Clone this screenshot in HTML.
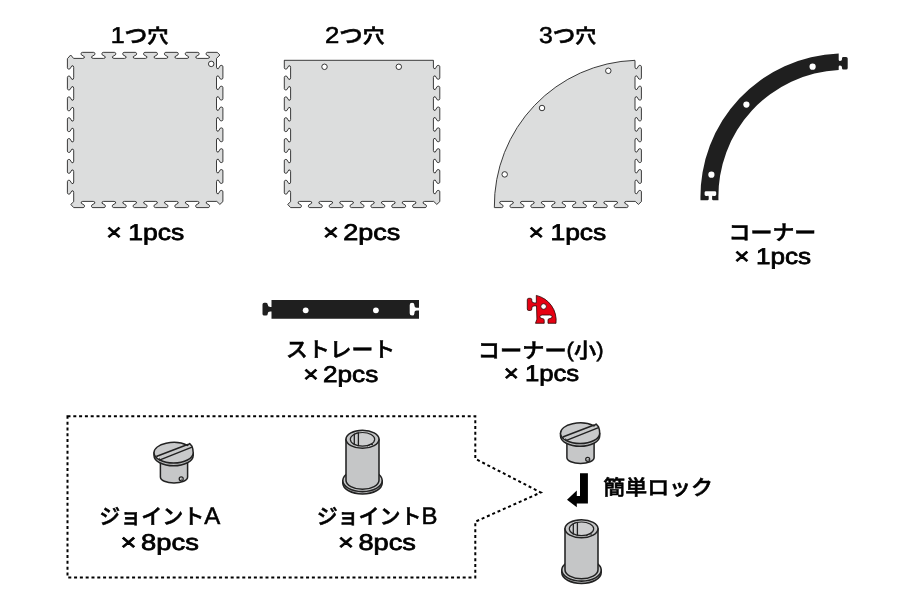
<!DOCTYPE html>
<html lang="ja"><head><meta charset="utf-8"><title>パーツ一覧</title>
<style>
html,body{margin:0;padding:0;background:#fff}
svg{display:block;will-change:transform;opacity:.999}
text{font-family:"Liberation Sans","Noto Sans CJK JP",sans-serif;text-rendering:geometricPrecision}
</style></head><body>
<svg width="920" height="600" viewBox="0 0 920 600">
<rect width="920" height="600" fill="#fff"/>
<g fill="#dcdddd" stroke="#222222" stroke-width="0.88" stroke-linejoin="round">
<path d="M70.7 55L73.6 58.4L82.85 58.4Q84.65 58.4 84.45 56.71L81.3 54.77C80.85 53.86 81 52.35 82.4 52.35L93.6 52.35C95 52.35 95.15 53.86 94.7 54.77L91.55 56.71Q91.35 58.4 93.15 58.4L103.69 58.4Q105.49 58.4 105.29 56.71L102.14 54.77C101.69 53.86 101.84 52.35 103.24 52.35L114.44 52.35C115.84 52.35 115.99 53.86 115.54 54.77L112.39 56.71Q112.19 58.4 113.99 58.4L124.53 58.4Q126.33 58.4 126.13 56.71L122.98 54.77C122.53 53.86 122.68 52.35 124.08 52.35L135.28 52.35C136.68 52.35 136.83 53.86 136.38 54.77L133.23 56.71Q133.03 58.4 134.83 58.4L145.37 58.4Q147.17 58.4 146.97 56.71L143.82 54.77C143.37 53.86 143.52 52.35 144.92 52.35L156.12 52.35C157.52 52.35 157.67 53.86 157.22 54.77L154.07 56.71Q153.87 58.4 155.67 58.4L166.21 58.4Q168.01 58.4 167.81 56.71L164.66 54.77C164.21 53.86 164.36 52.35 165.76 52.35L176.96 52.35C178.36 52.35 178.51 53.86 178.06 54.77L174.91 56.71Q174.71 58.4 176.51 58.4L187.05 58.4Q188.85 58.4 188.65 56.71L185.5 54.77C185.05 53.86 185.2 52.35 186.6 52.35L197.8 52.35C199.2 52.35 199.35 53.86 198.9 54.77L195.75 56.71Q195.55 58.4 197.35 58.4L207.89 58.4Q209.69 58.4 209.49 56.71L206.34 54.77C205.89 53.86 206.04 52.35 207.44 52.35L217.2 52.35L219.9 55L216.5 58.4L216.5 67.15Q216.5 68.95 218.29 68.75L220.34 65.6C221.3 65.15 222.9 65.3 222.9 66.7L222.9 77.9C222.9 79.3 221.3 79.45 220.34 79L218.29 75.85Q216.5 75.65 216.5 77.45L216.5 87.99Q216.5 89.79 218.29 89.59L220.34 86.44C221.3 85.99 222.9 86.14 222.9 87.54L222.9 98.74C222.9 100.14 221.3 100.29 220.34 99.84L218.29 96.69Q216.5 96.49 216.5 98.29L216.5 108.83Q216.5 110.63 218.29 110.43L220.34 107.28C221.3 106.83 222.9 106.98 222.9 108.38L222.9 119.58C222.9 120.98 221.3 121.13 220.34 120.68L218.29 117.53Q216.5 117.33 216.5 119.13L216.5 129.67Q216.5 131.47 218.29 131.27L220.34 128.12C221.3 127.67 222.9 127.82 222.9 129.22L222.9 140.42C222.9 141.82 221.3 141.97 220.34 141.52L218.29 138.37Q216.5 138.17 216.5 139.97L216.5 150.51Q216.5 152.31 218.29 152.11L220.34 148.96C221.3 148.51 222.9 148.66 222.9 150.06L222.9 161.26C222.9 162.66 221.3 162.81 220.34 162.36L218.29 159.21Q216.5 159.01 216.5 160.81L216.5 171.35Q216.5 173.15 218.29 172.95L220.34 169.8C221.3 169.35 222.9 169.5 222.9 170.9L222.9 182.1C222.9 183.5 221.3 183.65 220.34 183.2L218.29 180.05Q216.5 179.85 216.5 181.65L216.5 192.19Q216.5 193.99 218.29 193.79L220.34 190.64C221.3 190.19 222.9 190.34 222.9 191.74L222.9 201.6L219.9 204.4L216.8 201.4L207.77 201.4Q205.97 201.4 206.17 203.14L209.32 205.12C209.77 206.05 209.62 207.6 208.22 207.6L197.02 207.6C195.62 207.6 195.47 206.05 195.92 205.12L199.07 203.14Q199.27 201.4 197.47 201.4L186.93 201.4Q185.13 201.4 185.33 203.14L188.48 205.12C188.93 206.05 188.78 207.6 187.38 207.6L176.18 207.6C174.78 207.6 174.63 206.05 175.08 205.12L178.23 203.14Q178.43 201.4 176.63 201.4L166.09 201.4Q164.29 201.4 164.49 203.14L167.64 205.12C168.09 206.05 167.94 207.6 166.54 207.6L155.34 207.6C153.94 207.6 153.79 206.05 154.24 205.12L157.39 203.14Q157.59 201.4 155.79 201.4L145.25 201.4Q143.45 201.4 143.65 203.14L146.8 205.12C147.25 206.05 147.1 207.6 145.7 207.6L134.5 207.6C133.1 207.6 132.95 206.05 133.4 205.12L136.55 203.14Q136.75 201.4 134.95 201.4L124.41 201.4Q122.61 201.4 122.81 203.14L125.96 205.12C126.41 206.05 126.26 207.6 124.86 207.6L113.66 207.6C112.26 207.6 112.11 206.05 112.56 205.12L115.71 203.14Q115.91 201.4 114.11 201.4L103.57 201.4Q101.77 201.4 101.97 203.14L105.12 205.12C105.57 206.05 105.42 207.6 104.02 207.6L92.82 207.6C91.42 207.6 91.27 206.05 91.72 205.12L94.87 203.14Q95.07 201.4 93.27 201.4L82.73 201.4Q80.93 201.4 81.13 203.14L84.28 205.12C84.73 206.05 84.58 207.6 83.18 207.6L73.7 207.6L70.8 204.4L73.7 201.7L73.7 192.35Q73.7 190.55 71.94 190.75L69.92 193.9C68.98 194.35 67.4 194.2 67.4 192.8L67.4 181.6C67.4 180.2 68.98 180.05 69.92 180.5L71.94 183.65Q73.7 183.85 73.7 182.05L73.7 171.51Q73.7 169.71 71.94 169.91L69.92 173.06C68.98 173.51 67.4 173.36 67.4 171.96L67.4 160.76C67.4 159.36 68.98 159.21 69.92 159.66L71.94 162.81Q73.7 163.01 73.7 161.21L73.7 150.67Q73.7 148.87 71.94 149.07L69.92 152.22C68.98 152.67 67.4 152.52 67.4 151.12L67.4 139.92C67.4 138.52 68.98 138.37 69.92 138.82L71.94 141.97Q73.7 142.17 73.7 140.37L73.7 129.83Q73.7 128.03 71.94 128.23L69.92 131.38C68.98 131.83 67.4 131.68 67.4 130.28L67.4 119.08C67.4 117.68 68.98 117.53 69.92 117.98L71.94 121.13Q73.7 121.33 73.7 119.53L73.7 108.99Q73.7 107.19 71.94 107.39L69.92 110.54C68.98 110.99 67.4 110.84 67.4 109.44L67.4 98.24C67.4 96.84 68.98 96.69 69.92 97.14L71.94 100.29Q73.7 100.49 73.7 98.69L73.7 88.15Q73.7 86.35 71.94 86.55L69.92 89.7C68.98 90.15 67.4 90 67.4 88.6L67.4 77.4C67.4 76 68.98 75.85 69.92 76.3L71.94 79.45Q73.7 79.65 73.7 77.85L73.7 67.31Q73.7 65.51 71.94 65.71L69.92 68.86C68.98 69.31 67.4 69.16 67.4 67.76L67.4 58.7Z"/>
<circle cx="211.2" cy="63.9" r="2.75" fill="#fff" stroke-width="0.9"/>
<clipPath id="c2"><rect x="270" y="60.3" width="200" height="160"/></clipPath>
<path d="M287.6 55L290.5 58.4L299.75 58.4Q301.55 58.4 301.35 56.71L298.2 54.77C297.75 53.86 297.9 52.35 299.3 52.35L310.5 52.35C311.9 52.35 312.05 53.86 311.6 54.77L308.45 56.71Q308.25 58.4 310.05 58.4L320.59 58.4Q322.39 58.4 322.19 56.71L319.04 54.77C318.59 53.86 318.74 52.35 320.14 52.35L331.34 52.35C332.74 52.35 332.89 53.86 332.44 54.77L329.29 56.71Q329.09 58.4 330.89 58.4L341.43 58.4Q343.23 58.4 343.03 56.71L339.88 54.77C339.43 53.86 339.58 52.35 340.98 52.35L352.18 52.35C353.58 52.35 353.73 53.86 353.28 54.77L350.13 56.71Q349.93 58.4 351.73 58.4L362.27 58.4Q364.07 58.4 363.87 56.71L360.72 54.77C360.27 53.86 360.42 52.35 361.82 52.35L373.02 52.35C374.42 52.35 374.57 53.86 374.12 54.77L370.97 56.71Q370.77 58.4 372.57 58.4L383.11 58.4Q384.91 58.4 384.71 56.71L381.56 54.77C381.11 53.86 381.26 52.35 382.66 52.35L393.86 52.35C395.26 52.35 395.41 53.86 394.96 54.77L391.81 56.71Q391.61 58.4 393.41 58.4L403.95 58.4Q405.75 58.4 405.55 56.71L402.4 54.77C401.95 53.86 402.1 52.35 403.5 52.35L414.7 52.35C416.1 52.35 416.25 53.86 415.8 54.77L412.65 56.71Q412.45 58.4 414.25 58.4L424.79 58.4Q426.59 58.4 426.39 56.71L423.24 54.77C422.79 53.86 422.94 52.35 424.34 52.35L434.1 52.35L436.8 55L433.4 58.4L433.4 67.15Q433.4 68.95 435.19 68.75L437.24 65.6C438.2 65.15 439.8 65.3 439.8 66.7L439.8 77.9C439.8 79.3 438.2 79.45 437.24 79L435.19 75.85Q433.4 75.65 433.4 77.45L433.4 87.99Q433.4 89.79 435.19 89.59L437.24 86.44C438.2 85.99 439.8 86.14 439.8 87.54L439.8 98.74C439.8 100.14 438.2 100.29 437.24 99.84L435.19 96.69Q433.4 96.49 433.4 98.29L433.4 108.83Q433.4 110.63 435.19 110.43L437.24 107.28C438.2 106.83 439.8 106.98 439.8 108.38L439.8 119.58C439.8 120.98 438.2 121.13 437.24 120.68L435.19 117.53Q433.4 117.33 433.4 119.13L433.4 129.67Q433.4 131.47 435.19 131.27L437.24 128.12C438.2 127.67 439.8 127.82 439.8 129.22L439.8 140.42C439.8 141.82 438.2 141.97 437.24 141.52L435.19 138.37Q433.4 138.17 433.4 139.97L433.4 150.51Q433.4 152.31 435.19 152.11L437.24 148.96C438.2 148.51 439.8 148.66 439.8 150.06L439.8 161.26C439.8 162.66 438.2 162.81 437.24 162.36L435.19 159.21Q433.4 159.01 433.4 160.81L433.4 171.35Q433.4 173.15 435.19 172.95L437.24 169.8C438.2 169.35 439.8 169.5 439.8 170.9L439.8 182.1C439.8 183.5 438.2 183.65 437.24 183.2L435.19 180.05Q433.4 179.85 433.4 181.65L433.4 192.19Q433.4 193.99 435.19 193.79L437.24 190.64C438.2 190.19 439.8 190.34 439.8 191.74L439.8 201.6L436.8 204.4L433.7 201.4L424.67 201.4Q422.87 201.4 423.07 203.14L426.22 205.12C426.67 206.05 426.52 207.6 425.12 207.6L413.92 207.6C412.52 207.6 412.37 206.05 412.82 205.12L415.97 203.14Q416.17 201.4 414.37 201.4L403.83 201.4Q402.03 201.4 402.23 203.14L405.38 205.12C405.83 206.05 405.68 207.6 404.28 207.6L393.08 207.6C391.68 207.6 391.53 206.05 391.98 205.12L395.13 203.14Q395.33 201.4 393.53 201.4L382.99 201.4Q381.19 201.4 381.39 203.14L384.54 205.12C384.99 206.05 384.84 207.6 383.44 207.6L372.24 207.6C370.84 207.6 370.69 206.05 371.14 205.12L374.29 203.14Q374.49 201.4 372.69 201.4L362.15 201.4Q360.35 201.4 360.55 203.14L363.7 205.12C364.15 206.05 364 207.6 362.6 207.6L351.4 207.6C350 207.6 349.85 206.05 350.3 205.12L353.45 203.14Q353.65 201.4 351.85 201.4L341.31 201.4Q339.51 201.4 339.71 203.14L342.86 205.12C343.31 206.05 343.16 207.6 341.76 207.6L330.56 207.6C329.16 207.6 329.01 206.05 329.46 205.12L332.61 203.14Q332.81 201.4 331.01 201.4L320.47 201.4Q318.67 201.4 318.87 203.14L322.02 205.12C322.47 206.05 322.32 207.6 320.92 207.6L309.72 207.6C308.32 207.6 308.17 206.05 308.62 205.12L311.77 203.14Q311.97 201.4 310.17 201.4L299.63 201.4Q297.83 201.4 298.03 203.14L301.18 205.12C301.63 206.05 301.48 207.6 300.08 207.6L290.6 207.6L287.7 204.4L290.6 201.7L290.6 192.35Q290.6 190.55 288.84 190.75L286.82 193.9C285.88 194.35 284.3 194.2 284.3 192.8L284.3 181.6C284.3 180.2 285.88 180.05 286.82 180.5L288.84 183.65Q290.6 183.85 290.6 182.05L290.6 171.51Q290.6 169.71 288.84 169.91L286.82 173.06C285.88 173.51 284.3 173.36 284.3 171.96L284.3 160.76C284.3 159.36 285.88 159.21 286.82 159.66L288.84 162.81Q290.6 163.01 290.6 161.21L290.6 150.67Q290.6 148.87 288.84 149.07L286.82 152.22C285.88 152.67 284.3 152.52 284.3 151.12L284.3 139.92C284.3 138.52 285.88 138.37 286.82 138.82L288.84 141.97Q290.6 142.17 290.6 140.37L290.6 129.83Q290.6 128.03 288.84 128.23L286.82 131.38C285.88 131.83 284.3 131.68 284.3 130.28L284.3 119.08C284.3 117.68 285.88 117.53 286.82 117.98L288.84 121.13Q290.6 121.33 290.6 119.53L290.6 108.99Q290.6 107.19 288.84 107.39L286.82 110.54C285.88 110.99 284.3 110.84 284.3 109.44L284.3 98.24C284.3 96.84 285.88 96.69 286.82 97.14L288.84 100.29Q290.6 100.49 290.6 98.69L290.6 88.15Q290.6 86.35 288.84 86.55L286.82 89.7C285.88 90.15 284.3 90 284.3 88.6L284.3 77.4C284.3 76 285.88 75.85 286.82 76.3L288.84 79.45Q290.6 79.65 290.6 77.85L290.6 67.31Q290.6 65.51 288.84 65.71L286.82 68.86C285.88 69.31 284.3 69.16 284.3 67.76L284.3 58.7Z" clip-path="url(#c2)"/>
<path d="M284.2 60.3H433.4" fill="none"/>
<circle cx="324.5" cy="66.8" r="2.75" fill="#fff" stroke-width="0.9"/><circle cx="398.8" cy="66.8" r="2.75" fill="#fff" stroke-width="0.9"/>
<clipPath id="c3"><circle cx="639.97" cy="205.89" r="145.65"/></clipPath>
<path d="M489.2 55L492.1 58.4L501.35 58.4Q503.15 58.4 502.95 56.71L499.8 54.77C499.35 53.86 499.5 52.35 500.9 52.35L512.1 52.35C513.5 52.35 513.65 53.86 513.2 54.77L510.05 56.71Q509.85 58.4 511.65 58.4L522.19 58.4Q523.99 58.4 523.79 56.71L520.64 54.77C520.19 53.86 520.34 52.35 521.74 52.35L532.94 52.35C534.34 52.35 534.49 53.86 534.04 54.77L530.89 56.71Q530.69 58.4 532.49 58.4L543.03 58.4Q544.83 58.4 544.63 56.71L541.48 54.77C541.03 53.86 541.18 52.35 542.58 52.35L553.78 52.35C555.18 52.35 555.33 53.86 554.88 54.77L551.73 56.71Q551.53 58.4 553.33 58.4L563.87 58.4Q565.67 58.4 565.47 56.71L562.32 54.77C561.87 53.86 562.02 52.35 563.42 52.35L574.62 52.35C576.02 52.35 576.17 53.86 575.72 54.77L572.57 56.71Q572.37 58.4 574.17 58.4L584.71 58.4Q586.51 58.4 586.31 56.71L583.16 54.77C582.71 53.86 582.86 52.35 584.26 52.35L595.46 52.35C596.86 52.35 597.01 53.86 596.56 54.77L593.41 56.71Q593.21 58.4 595.01 58.4L605.55 58.4Q607.35 58.4 607.15 56.71L604 54.77C603.55 53.86 603.7 52.35 605.1 52.35L616.3 52.35C617.7 52.35 617.85 53.86 617.4 54.77L614.25 56.71Q614.05 58.4 615.85 58.4L626.39 58.4Q628.19 58.4 627.99 56.71L624.84 54.77C624.39 53.86 624.54 52.35 625.94 52.35L635.7 52.35L638.4 55L635 58.4L635 67.15Q635 68.95 636.79 68.75L638.84 65.6C639.8 65.15 641.4 65.3 641.4 66.7L641.4 77.9C641.4 79.3 639.8 79.45 638.84 79L636.79 75.85Q635 75.65 635 77.45L635 87.99Q635 89.79 636.79 89.59L638.84 86.44C639.8 85.99 641.4 86.14 641.4 87.54L641.4 98.74C641.4 100.14 639.8 100.29 638.84 99.84L636.79 96.69Q635 96.49 635 98.29L635 108.83Q635 110.63 636.79 110.43L638.84 107.28C639.8 106.83 641.4 106.98 641.4 108.38L641.4 119.58C641.4 120.98 639.8 121.13 638.84 120.68L636.79 117.53Q635 117.33 635 119.13L635 129.67Q635 131.47 636.79 131.27L638.84 128.12C639.8 127.67 641.4 127.82 641.4 129.22L641.4 140.42C641.4 141.82 639.8 141.97 638.84 141.52L636.79 138.37Q635 138.17 635 139.97L635 150.51Q635 152.31 636.79 152.11L638.84 148.96C639.8 148.51 641.4 148.66 641.4 150.06L641.4 161.26C641.4 162.66 639.8 162.81 638.84 162.36L636.79 159.21Q635 159.01 635 160.81L635 171.35Q635 173.15 636.79 172.95L638.84 169.8C639.8 169.35 641.4 169.5 641.4 170.9L641.4 182.1C641.4 183.5 639.8 183.65 638.84 183.2L636.79 180.05Q635 179.85 635 181.65L635 192.19Q635 193.99 636.79 193.79L638.84 190.64C639.8 190.19 641.4 190.34 641.4 191.74L641.4 201.6L638.4 204.4L635.3 201.4L626.27 201.4Q624.47 201.4 624.67 203.14L627.82 205.12C628.27 206.05 628.12 207.6 626.72 207.6L615.52 207.6C614.12 207.6 613.97 206.05 614.42 205.12L617.57 203.14Q617.77 201.4 615.97 201.4L605.43 201.4Q603.63 201.4 603.83 203.14L606.98 205.12C607.43 206.05 607.28 207.6 605.88 207.6L594.68 207.6C593.28 207.6 593.13 206.05 593.58 205.12L596.73 203.14Q596.93 201.4 595.13 201.4L584.59 201.4Q582.79 201.4 582.99 203.14L586.14 205.12C586.59 206.05 586.44 207.6 585.04 207.6L573.84 207.6C572.44 207.6 572.29 206.05 572.74 205.12L575.89 203.14Q576.09 201.4 574.29 201.4L563.75 201.4Q561.95 201.4 562.15 203.14L565.3 205.12C565.75 206.05 565.6 207.6 564.2 207.6L553 207.6C551.6 207.6 551.45 206.05 551.9 205.12L555.05 203.14Q555.25 201.4 553.45 201.4L542.91 201.4Q541.11 201.4 541.31 203.14L544.46 205.12C544.91 206.05 544.76 207.6 543.36 207.6L532.16 207.6C530.76 207.6 530.61 206.05 531.06 205.12L534.21 203.14Q534.41 201.4 532.61 201.4L522.07 201.4Q520.27 201.4 520.47 203.14L523.62 205.12C524.07 206.05 523.92 207.6 522.52 207.6L511.32 207.6C509.92 207.6 509.77 206.05 510.22 205.12L513.37 203.14Q513.57 201.4 511.77 201.4L501.23 201.4Q499.43 201.4 499.63 203.14L502.78 205.12C503.23 206.05 503.08 207.6 501.68 207.6L492.2 207.6L489.3 204.4L492.2 201.7L492.2 192.35Q492.2 190.55 490.44 190.75L488.42 193.9C487.48 194.35 485.9 194.2 485.9 192.8L485.9 181.6C485.9 180.2 487.48 180.05 488.42 180.5L490.44 183.65Q492.2 183.85 492.2 182.05L492.2 171.51Q492.2 169.71 490.44 169.91L488.42 173.06C487.48 173.51 485.9 173.36 485.9 171.96L485.9 160.76C485.9 159.36 487.48 159.21 488.42 159.66L490.44 162.81Q492.2 163.01 492.2 161.21L492.2 150.67Q492.2 148.87 490.44 149.07L488.42 152.22C487.48 152.67 485.9 152.52 485.9 151.12L485.9 139.92C485.9 138.52 487.48 138.37 488.42 138.82L490.44 141.97Q492.2 142.17 492.2 140.37L492.2 129.83Q492.2 128.03 490.44 128.23L488.42 131.38C487.48 131.83 485.9 131.68 485.9 130.28L485.9 119.08C485.9 117.68 487.48 117.53 488.42 117.98L490.44 121.13Q492.2 121.33 492.2 119.53L492.2 108.99Q492.2 107.19 490.44 107.39L488.42 110.54C487.48 110.99 485.9 110.84 485.9 109.44L485.9 98.24C485.9 96.84 487.48 96.69 488.42 97.14L490.44 100.29Q492.2 100.49 492.2 98.69L492.2 88.15Q492.2 86.35 490.44 86.55L488.42 89.7C487.48 90.15 485.9 90 485.9 88.6L485.9 77.4C485.9 76 487.48 75.85 488.42 76.3L490.44 79.45Q492.2 79.65 492.2 77.85L492.2 67.31Q492.2 65.51 490.44 65.71L488.42 68.86C487.48 69.31 485.9 69.16 485.9 67.76L485.9 58.7Z" clip-path="url(#c3)"/>
<path d="M494.33 207.6A145.65 145.65 0 0 1 635 60.32" fill="none"/>
<circle cx="542" cy="108" r="2.75" fill="#fff" stroke-width="0.9"/><circle cx="608.3" cy="70.8" r="2.75" fill="#fff" stroke-width="0.9"/><circle cx="504.7" cy="174.4" r="2.75" fill="#fff" stroke-width="0.9"/>
</g>
<path d="M700.5 200.3A143.25 143.25 0 0 1 838.7 53.54V59.8Q838.7 61 840 61Q842 61 842 59.2V58.4Q842 57 843.4 57H846.1Q847.7 57 847.7 58.6V68Q847.7 69.6 846.1 69.6H843.4Q842 69.6 842 68.2V67.4Q842 65.6 840 65.6Q838.7 65.6 838.7 66.8V69.96A126.6 126.6 0 0 0 718.46 200.3H713.3Q712.1 200.3 712.1 199.1V196.6Q712.1 195.4 713.7 196H714.8Q716.2 196 716.2 194.6V192.6Q716.2 191.2 714.8 191.2H706Q704.6 191.2 704.6 192.6V194.6Q704.6 196 706 196H707.1Q708.7 195.4 708.7 196.6V199.1Q708.7 200.3 707.5 200.3Z" fill="#1f1f1f"/>
<g fill="#fff"><circle cx="812.6" cy="66.7" r="3.1"/><circle cx="746.4" cy="104.6" r="3.1"/><circle cx="711.4" cy="174.7" r="3.1"/></g>
<path d="M271.5 300H419V307.8H416.6Q414.4 307.8 414.4 305.6V305Q414.4 302.8 412.05 302.8Q409.7 302.8 409.7 305.1V313.3Q409.7 315.6 412.05 315.6Q414.4 315.6 414.4 313.4V312.8Q414.4 310.6 416.6 310.6H419V318.8H271.5V311.4H270.2Q267.7 311.4 267.7 313.8V314Q267.7 315.6 266 315.6H264.2Q262.5 315.6 262.5 313.9V304.5Q262.5 302.8 264.2 302.8H266Q267.7 302.8 267.7 304.4V304.6Q267.7 307 270.2 307H271.5Z" fill="#1f1f1f"/>
<g fill="#fff"><circle cx="305.7" cy="310.3" r="2.9"/><circle cx="375.9" cy="310.3" r="2.9"/></g>
<path d="M536.3 295.4A25.7 25.7 0 0 1 556 323.3H548V320.2Q548 318.5 549.8 318.5Q552.1 318.5 552.1 316.8Q552.1 315 549.8 315H542.2Q539.9 315 539.9 316.8Q539.9 318.5 542.2 318.5Q544.2 318.5 544.2 320.2V323.3H535.5L536.9 319.2L536.5 305.9H534.2Q531.8 305.9 531.8 308V309Q531.8 310.5 530.3 310.5H528.8Q527.3 310.5 527.3 309V299.8Q527.3 298.3 528.8 298.3H530.3Q531.8 298.3 531.8 299.8V300.8Q531.8 302.9 534.2 302.9H536.4Z" fill="#e60012" stroke="#2a0505" stroke-width="0.8" stroke-linejoin="round"/>
<circle cx="543.6" cy="306.5" r="2.8" fill="#fff" stroke="#2a0505" stroke-width="0.8"/>
<path d="M67.5 416.2H475.3V458.8L540.8 492.5L475.3 521.7V577.5H67.5Z" fill="none" stroke="#000" stroke-width="2" stroke-dasharray="3 2.8"/>
<g transform="translate(0 0)" stroke="#222" stroke-width="1.5" stroke-linejoin="round" stroke-linecap="round"><path d="M160.4 460V477A13.6 6 0 0 0 187.6 477V460Z" fill="#c6c7c8"/><path d="M154 452.7V455.5A19.6 10.3 0 0 0 193.2 455.5V452.7Z" fill="#b9babb"/><path d="M154 452.7A19.6 10.3 0 0 1 187.4 445.4L189.6 443.5L192 446.2Q193.2 449.2 193.2 452.7A19.6 10.3 0 0 1 154 452.7Z" fill="#c9cacb"/><path d="M156.9 456.3L187.6 444.5M160 459.9L191.4 447.3" fill="none" stroke-width="1.45"/><path d="M156.9 456.3Q159.4 456.9 160 459.9" fill="none" stroke-width="0.8"/><circle cx="158.4" cy="457.5" r="0.8" fill="#f2f2f2" stroke="none"/><circle cx="181.2" cy="478.8" r="2" fill="#cfcfcf" stroke-width="1.25"/><circle cx="181.8" cy="479.4" r="1" fill="#777" stroke="none"/></g>
<g transform="translate(0 0)" stroke="#222" stroke-width="1.55" stroke-linejoin="round" stroke-linecap="round"><path d="M342.8 480.6V483A19.7 11 0 0 0 382.2 483V480.6Z" fill="#b4b5b6"/><ellipse cx="362.5" cy="480.6" rx="19.7" ry="11" fill="#c9cacb"/><path d="M346 439.2V480.2A16.5 9 0 0 0 379 480.2V439.2Z" fill="#c5c6c7"/><ellipse cx="362.5" cy="439.2" rx="16.5" ry="9" fill="#c5c6c7"/><ellipse cx="362.5" cy="439.3" rx="12.2" ry="6.8" fill="#cdcecf" stroke-width="1.2"/><path d="M354.3 434.2V444.6M358.4 432.9V445.6" fill="none" stroke-width="1.3"/><path d="M354.3 434.2Q356 432.4 358.4 432.9" fill="none" stroke-width="0.9"/><path d="M367.5 446Q369.5 445.2 370.6 444.4L372.6 444.6" fill="none" stroke-width="1"/></g>
<g transform="translate(406.5 -19.5)" stroke="#222" stroke-width="1.5" stroke-linejoin="round" stroke-linecap="round"><path d="M160.4 460V477A13.6 6 0 0 0 187.6 477V460Z" fill="#c6c7c8"/><path d="M154 452.7V455.5A19.6 10.3 0 0 0 193.2 455.5V452.7Z" fill="#b9babb"/><path d="M154 452.7A19.6 10.3 0 0 1 187.4 445.4L189.6 443.5L192 446.2Q193.2 449.2 193.2 452.7A19.6 10.3 0 0 1 154 452.7Z" fill="#c9cacb"/><path d="M156.9 456.3L187.6 444.5M160 459.9L191.4 447.3" fill="none" stroke-width="1.45"/><path d="M156.9 456.3Q159.4 456.9 160 459.9" fill="none" stroke-width="0.8"/><circle cx="158.4" cy="457.5" r="0.8" fill="#f2f2f2" stroke="none"/><circle cx="181.2" cy="478.8" r="2" fill="#cfcfcf" stroke-width="1.25"/><circle cx="181.8" cy="479.4" r="1" fill="#777" stroke="none"/></g>
<g transform="translate(219 89.5)" stroke="#222" stroke-width="1.55" stroke-linejoin="round" stroke-linecap="round"><path d="M342.8 480.6V483A19.7 11 0 0 0 382.2 483V480.6Z" fill="#b4b5b6"/><ellipse cx="362.5" cy="480.6" rx="19.7" ry="11" fill="#c9cacb"/><path d="M346 439.2V480.2A16.5 9 0 0 0 379 480.2V439.2Z" fill="#c5c6c7"/><ellipse cx="362.5" cy="439.2" rx="16.5" ry="9" fill="#c5c6c7"/><ellipse cx="362.5" cy="439.3" rx="12.2" ry="6.8" fill="#cdcecf" stroke-width="1.2"/><path d="M354.3 434.2V444.6M358.4 432.9V445.6" fill="none" stroke-width="1.3"/><path d="M354.3 434.2Q356 432.4 358.4 432.9" fill="none" stroke-width="0.9"/><path d="M367.5 446Q369.5 445.2 370.6 444.4L372.6 444.6" fill="none" stroke-width="1"/></g>
<path d="M580 473.3H587.9V503.4H576.8V507.3L567 499.7L576.8 490.4V496H580Z" fill="#000"/>
<g fill="#000" stroke="#000" stroke-linejoin="miter">
<text x="110.69" y="43" font-size="21" font-weight="500" stroke-width="0.55" textLength="57.82" lengthAdjust="spacingAndGlyphs"><tspan font-size="23" font-weight="400">1</tspan>つ<tspan font-size="19.5" stroke-width="0.6">穴</tspan></text>
<text x="325.07" y="43" font-size="21" font-weight="500" stroke-width="0.55" textLength="59.57" lengthAdjust="spacingAndGlyphs"><tspan font-size="23" font-weight="400">2</tspan>つ<tspan font-size="19.5" stroke-width="0.6">穴</tspan></text>
<text x="538.97" y="43" font-size="21" font-weight="500" stroke-width="0.55" textLength="57.24" lengthAdjust="spacingAndGlyphs"><tspan font-size="23" font-weight="400">3</tspan>つ<tspan font-size="19.5" stroke-width="0.6">穴</tspan></text>
<text x="106.37" y="240" font-size="22.8" font-weight="400" stroke-width="0.75" textLength="77.81" lengthAdjust="spacingAndGlyphs">× <tspan dx="-0.8">1pcs</tspan></text>
<text x="322.95" y="240" font-size="22.8" font-weight="400" stroke-width="0.75" textLength="77.24" lengthAdjust="spacingAndGlyphs">× <tspan dx="-2.5">2pcs</tspan></text>
<text x="528.6" y="240" font-size="22.8" font-weight="400" stroke-width="0.75" textLength="77.7" lengthAdjust="spacingAndGlyphs">× <tspan dx="-0.8">1pcs</tspan></text>
<text x="728.63" y="240" font-size="21" font-weight="500" stroke-width="0.55" textLength="87.65" lengthAdjust="spacingAndGlyphs">コーナー</text>
<text x="734.38" y="264" font-size="22.8" font-weight="400" stroke-width="0.75" textLength="76.71" lengthAdjust="spacingAndGlyphs">× <tspan dx="-0.8">1pcs</tspan></text>
<text x="286.13" y="357" font-size="21" font-weight="500" stroke-width="0.55" textLength="109" lengthAdjust="spacingAndGlyphs">ストレート</text>
<text x="303.35" y="382" font-size="22.8" font-weight="400" stroke-width="0.75" textLength="74.89" lengthAdjust="spacingAndGlyphs">× <tspan dx="-2.5">2pcs</tspan></text>
<text x="477.88" y="358" font-size="21" font-weight="500" stroke-width="0.55" textLength="125.69" lengthAdjust="spacingAndGlyphs">コーナー<tspan font-size="21" font-weight="400" dy="-1.4">(</tspan><tspan dy="1.4">小</tspan><tspan font-size="21" font-weight="400" dy="-1.4">)</tspan></text>
<text x="503.65" y="381" font-size="22.8" font-weight="400" stroke-width="0.75" textLength="75.57" lengthAdjust="spacingAndGlyphs">× <tspan dx="-0.8">1pcs</tspan></text>
<text x="99.23" y="524" font-size="21" font-weight="500" stroke-width="0.55" textLength="120.93" lengthAdjust="spacingAndGlyphs">ジョイント<tspan font-size="24" font-weight="400">A</tspan></text>
<text x="120.57" y="550" font-size="22.8" font-weight="400" stroke-width="0.75" textLength="78.25" lengthAdjust="spacingAndGlyphs">× <tspan dx="-2.5">8pcs</tspan></text>
<text x="316.65" y="524" font-size="21" font-weight="500" stroke-width="0.55" textLength="120.73" lengthAdjust="spacingAndGlyphs">ジョイント<tspan font-size="24" font-weight="400">B</tspan></text>
<text x="337.98" y="550" font-size="22.8" font-weight="400" stroke-width="0.75" textLength="77.9" lengthAdjust="spacingAndGlyphs">× <tspan dx="-2.5">8pcs</tspan></text>
<text x="603.31" y="495" font-size="21" font-weight="500" stroke-width="0.55" textLength="109.59" lengthAdjust="spacingAndGlyphs">簡単ロック</text>
</g>
</svg>
</body></html>
